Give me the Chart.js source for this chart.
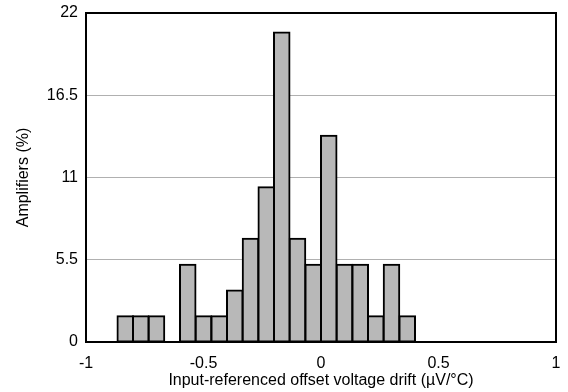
<!DOCTYPE html>
<html>
<head>
<meta charset="utf-8">
<script src="https://cdn.jsdelivr.net/npm/chart.js@4/dist/chart.umd.min.js"></script>
<style>
  html, body { margin: 0; padding: 0; background: #fff; }
  #wrap { width: 568px; height: 392px; }
</style>
</head>
<body>
<div id="wrap"><canvas id="chart" width="568" height="392"></canvas></div>
<script>
// bin centres (µV/°C), bins are 1/15 wide
const binCenters = [-0.833, -0.767, -0.7, -0.633, -0.567, -0.5, -0.433, -0.367, -0.3, -0.233,
  -0.167, -0.1, -0.033, 0.033, 0.1, 0.167, 0.233, 0.3, 0.367];
// share of amplifiers in each bin (%)
const percentValues = [1.72, 1.72, 1.72, 0, 5.17, 1.72, 1.72, 3.45, 6.9, 10.34,
  20.69, 6.9, 5.17, 13.79, 5.17, 5.17, 1.72, 5.17, 1.72];
const xTicks = [-1, -0.5, 0, 0.5, 1];
const xTickLabels = ['-1', '-0.5', '0', '0.5', '1'];
const yTicks = [0, 5.5, 11, 16.5, 22];
const yTickLabels = ['0', '5.5', '11', '16.5', '22'];

const font = { family: '"Liberation Sans", Arial, sans-serif', size: 16 };

// black frame round the plot area
const frame = {
  id: 'frame',
  afterDatasetsDraw(chart) {
    const a = chart.chartArea;
    const ctx = chart.ctx;
    ctx.save();
    ctx.strokeStyle = '#000';
    ctx.lineWidth = 2;
    ctx.strokeRect(a.left, a.top, a.right - a.left, a.bottom - a.top);
    ctx.restore();
  }
};

new Chart(document.getElementById('chart'), {
  type: 'bar',
  data: {
    datasets: [{
      data: binCenters.map((x, i) => ({ x: x, y: percentValues[i] })),
      backgroundColor: '#b8b8b8',
      borderColor: '#000',
      borderWidth: 2,
      borderSkipped: false,
      inflateAmount: 1,
      barPercentage: 1,
      categoryPercentage: 1
    }]
  },
  options: {
    responsive: false,
    animation: false,
    events: [],
    layout: { padding: { left: 6, right: 12, top: 13, bottom: 2 } },
    plugins: { legend: { display: false }, tooltip: { enabled: false } },
    scales: {
      x: {
        type: 'linear',
        offset: false,
        min: -1,
        max: 1,
        afterBuildTicks(scale) { scale.ticks = xTicks.map(v => ({ value: v })); },
        afterFit(scale) {
          scale.height = 48;
          scale.paddingLeft = 0;
          scale.paddingRight = 0;
        },
        grid: { display: false, drawTicks: false },
        border: { display: false },
        ticks: {
          color: '#000', font: font, padding: 12, maxRotation: 0, autoSkip: false,
          callback: (v, i) => xTickLabels[i]
        },
        title: {
          display: true,
          text: 'Input-referenced offset voltage drift (µV/°C)',
          color: '#000',
          font: font,
          padding: { top: 0, bottom: 0 }
        }
      },
      y: {
        min: 0,
        max: 22,
        afterBuildTicks(scale) { scale.ticks = yTicks.map(v => ({ value: v })); },
        afterFit(scale) {
          scale.width = 80;
          scale.paddingTop = 0;
          scale.paddingBottom = 0;
        },
        grid: { color: '#b0b0b0', lineWidth: 1, drawTicks: false },
        border: { display: false },
        ticks: {
          color: '#000', font: font, padding: 8,
          callback: (v, i) => yTickLabels[i]
        },
        title: {
          display: true,
          text: 'Amplifiers (%)',
          color: '#000',
          font: font,
          padding: { top: 8, bottom: 0 }
        }
      }
    }
  },
  plugins: [frame]
});
</script>
</body>
</html>
